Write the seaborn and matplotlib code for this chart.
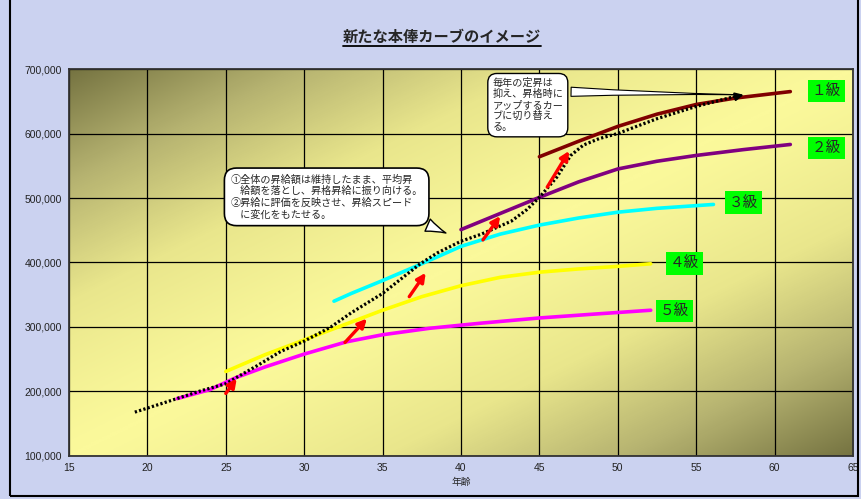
import numpy as np
import pandas as pd
import seaborn as sns
import matplotlib.pyplot as plt
from matplotlib.colors import LinearSegmentedColormap
from matplotlib.patches import Rectangle
from matplotlib.lines import Line2D

# current salary curve (dotted)
cur_age = [19.2, 21, 23.4, 25, 25.7, 27, 28.5, 30, 31.7, 33, 35, 36.2, 37.4, 38.5, 40,
           41.3, 43.2, 44.2, 45, 46.1, 47, 47.8, 48.8, 50, 52.5, 55, 57.4]
cur_sal = [168000, 182000, 201000, 212000, 222000, 240000, 262000, 278000, 300000, 322000,
           352000, 375000, 398000, 415000, 433000, 444000, 464000, 482000, 501000, 532000,
           566000, 582000, 592000, 600000, 623000, 642000, 657000]

# new curves per grade
grades = ['１級', '２級', '３級', '４級', '５級']
g1_age = [45, 47.5, 50, 52.5, 55, 57.5, 61]
g1_sal = [564000, 588000, 611000, 630000, 645000, 655000, 665000]
g2_age = [40, 42.5, 45, 47.5, 50, 52.5, 55, 58, 61]
g2_sal = [451000, 476000, 501000, 525000, 545000, 557000, 566000, 575000, 583000]
g3_age = [31.9, 33, 35, 37.4, 40, 42.5, 45, 47.5, 50, 52.5, 56.1]
g3_sal = [340000, 352000, 372000, 397000, 425000, 444000, 458000, 469000, 478000, 484000, 490000]
g4_age = [25, 27.5, 30, 32.5, 35, 37.5, 40, 42.5, 45, 47.5, 50, 52.1]
g4_sal = [231000, 257000, 280000, 303000, 326000, 347000, 364000, 377000, 385000, 390000, 394000, 398000]
g5_age = [21.9, 24, 25.7, 27.5, 30, 32.7, 35, 38, 41.3, 45, 48.5, 52.1]
g5_sal = [189000, 203000, 222000, 238000, 258000, 277000, 288000, 298000, 306000, 314000, 320000, 326000]

# promotion jumps (red arrows)
jump_from_age = [25.0, 32.6, 36.7, 41.4, 45.5]
jump_from_sal = [197000, 276000, 347000, 435000, 517000]
jump_to_age = [25.7, 34.0, 37.75, 42.5, 46.9]
jump_to_sal = [220000, 313000, 384000, 472000, 573000]

xticks = [15, 20, 25, 30, 35, 40, 45, 50, 55, 60, 65]
yticks = [100000, 200000, 300000, 400000, 500000, 600000, 700000]

note1 = ('①全体の昇給額は維持したまま、平均昇\n'
         '　給額を落とし、昇格昇給に振り向ける。\n'
         '②昇給に評価を反映させ、昇給スピード\n'
         '　に変化をもたせる。')
note2 = '毎年の定昇は\n抑え、昇格時に\nアップするカー\nブに切り替え\nる。'

rows = []
for g, a, s in zip(grades, [g1_age, g2_age, g3_age, g4_age, g5_age],
                   [g1_sal, g2_sal, g3_sal, g4_sal, g5_sal]):
    for x, y in zip(a, s):
        rows.append({'grade': g, 'age': x, 'salary': y})
df = pd.DataFrame(rows)
cur = pd.DataFrame({'age': cur_age, 'salary': cur_sal})

sns.set_style('white')
plt.rcParams['font.family'] = ['Liberation Sans', 'Noto Sans CJK JP', 'DejaVu Sans']
jp = ['Noto Sans CJK JP', 'DejaVu Sans']

fig = plt.figure(figsize=(8.62, 4.99), dpi=100, facecolor='#cbd2f0')
ax = fig.add_axes([0.080, 0.0862, 0.9096, 0.7755])

# plot area gradient
n = 300
U, V = np.meshgrid(np.linspace(0, 1, n), np.linspace(0, 1, n))
d = np.abs(U - V) ** 1.2
cmap = LinearSegmentedColormap.from_list('bg', ['#fbf99b', '#e9e68c', '#b5b270', '#757341'])
ax.imshow(d, cmap=cmap, extent=[0, 1, 0, 1], transform=ax.transAxes, origin='lower',
          aspect='auto', zorder=0, vmin=0, vmax=1)

palette = {'１級': '#800000', '２級': '#800080', '３級': '#00ffff',
           '４級': '#ffff00', '５級': '#ff00ff'}
sns.lineplot(data=df, x='age', y='salary', hue='grade', palette=palette, sort=False,
             estimator=None, legend=False, lw=2.6, ax=ax, zorder=3)
sns.lineplot(data=cur, x='age', y='salary', color='black', sort=False, estimator=None,
             lw=2.3, ls=(0, (0.7, 0.7)), ax=ax, zorder=4)
ax.annotate('', xy=(58.2, 661000), xytext=(57.2, 655500),
            arrowprops=dict(arrowstyle='-|>', color='black', lw=1.5, mutation_scale=12), zorder=5)

for xa, ya, xb, yb in zip(jump_from_age, jump_from_sal, jump_to_age, jump_to_sal):
    ax.annotate('', xy=(xb, yb), xytext=(xa, ya),
                arrowprops=dict(arrowstyle='-|>', color='#ff0000', lw=2.4,
                                mutation_scale=13, shrinkA=0, shrinkB=0), zorder=5)

# grade labels
label_pos = [(63.3, 666000), (63.3, 578000), (58.0, 493000), (54.25, 398500), (53.6, 324500)]
for g, (x, y) in zip(grades, label_pos):
    ax.text(x, y, g, ha='center', va='center', fontsize=10.5, family=jp, zorder=6,
            bbox=dict(boxstyle='square,pad=0.28', fc='#00ff00', ec='none'))

# callouts
ax.annotate(note1, xy=(39.2, 444000), xytext=(25.3, 537000), ha='left', va='top',
            fontsize=7.3, family=jp, linespacing=1.18, zorder=7,
            bbox=dict(boxstyle='round,pad=0.6,rounding_size=1.2', fc='white', ec='black', lw=1.2),
            arrowprops=dict(arrowstyle='wedge,tail_width=1.3,shrink_factor=0.4', fc='white',
                            ec='black', lw=1, relpos=(0.93, 0.05)))
ax.annotate(note2, xy=(57.9, 660000), xytext=(42.0, 686000), ha='left', va='top',
            fontsize=7.3, family=jp, linespacing=1.12, zorder=7,
            bbox=dict(boxstyle='round,pad=0.45,rounding_size=0.9', fc='white', ec='black', lw=1),
            arrowprops=dict(arrowstyle='wedge,tail_width=0.9,shrink_factor=0.3', fc='white',
                            ec='black', lw=0.8, relpos=(0.97, 0.75)))

ax.set_xlim(15, 65)
ax.set_ylim(100000, 700000)
ax.set_xticks(xticks)
ax.set_yticks(yticks)
ax.set_yticklabels([f'{v:,}' for v in yticks])
ax.grid(True, color='black', lw=0.9)
ax.set_axisbelow(True)
ax.tick_params(axis='both', labelsize=7.5, length=0, pad=5, colors='#222222')
ax.set_xlabel('年齢', fontsize=7, family=jp, labelpad=3)
ax.set_ylabel('')
for sp in ax.spines.values():
    sp.set_color('#333333')
    sp.set_linewidth(1.3)

# title with underline
title = fig.text(0.513, 0.927, '新たな本俸カーブのイメージ', ha='center', va='center',
                 fontsize=11, fontweight='bold', family=jp)
fig.canvas.draw()
bb = title.get_window_extent().transformed(fig.transFigure.inverted())
fig.add_artist(Line2D([bb.x0, bb.x1], [bb.y0 - 0.004, bb.y0 - 0.004], color='black', lw=1.3,
                      transform=fig.transFigure))

fig.patches.append(Rectangle((10 / 862, 3 / 499), 848 / 862, 1.0, transform=fig.transFigure,
                             fill=False, ec='black', lw=1.5, clip_on=False))

plt.savefig('out.png', dpi=100, facecolor=fig.get_facecolor())
